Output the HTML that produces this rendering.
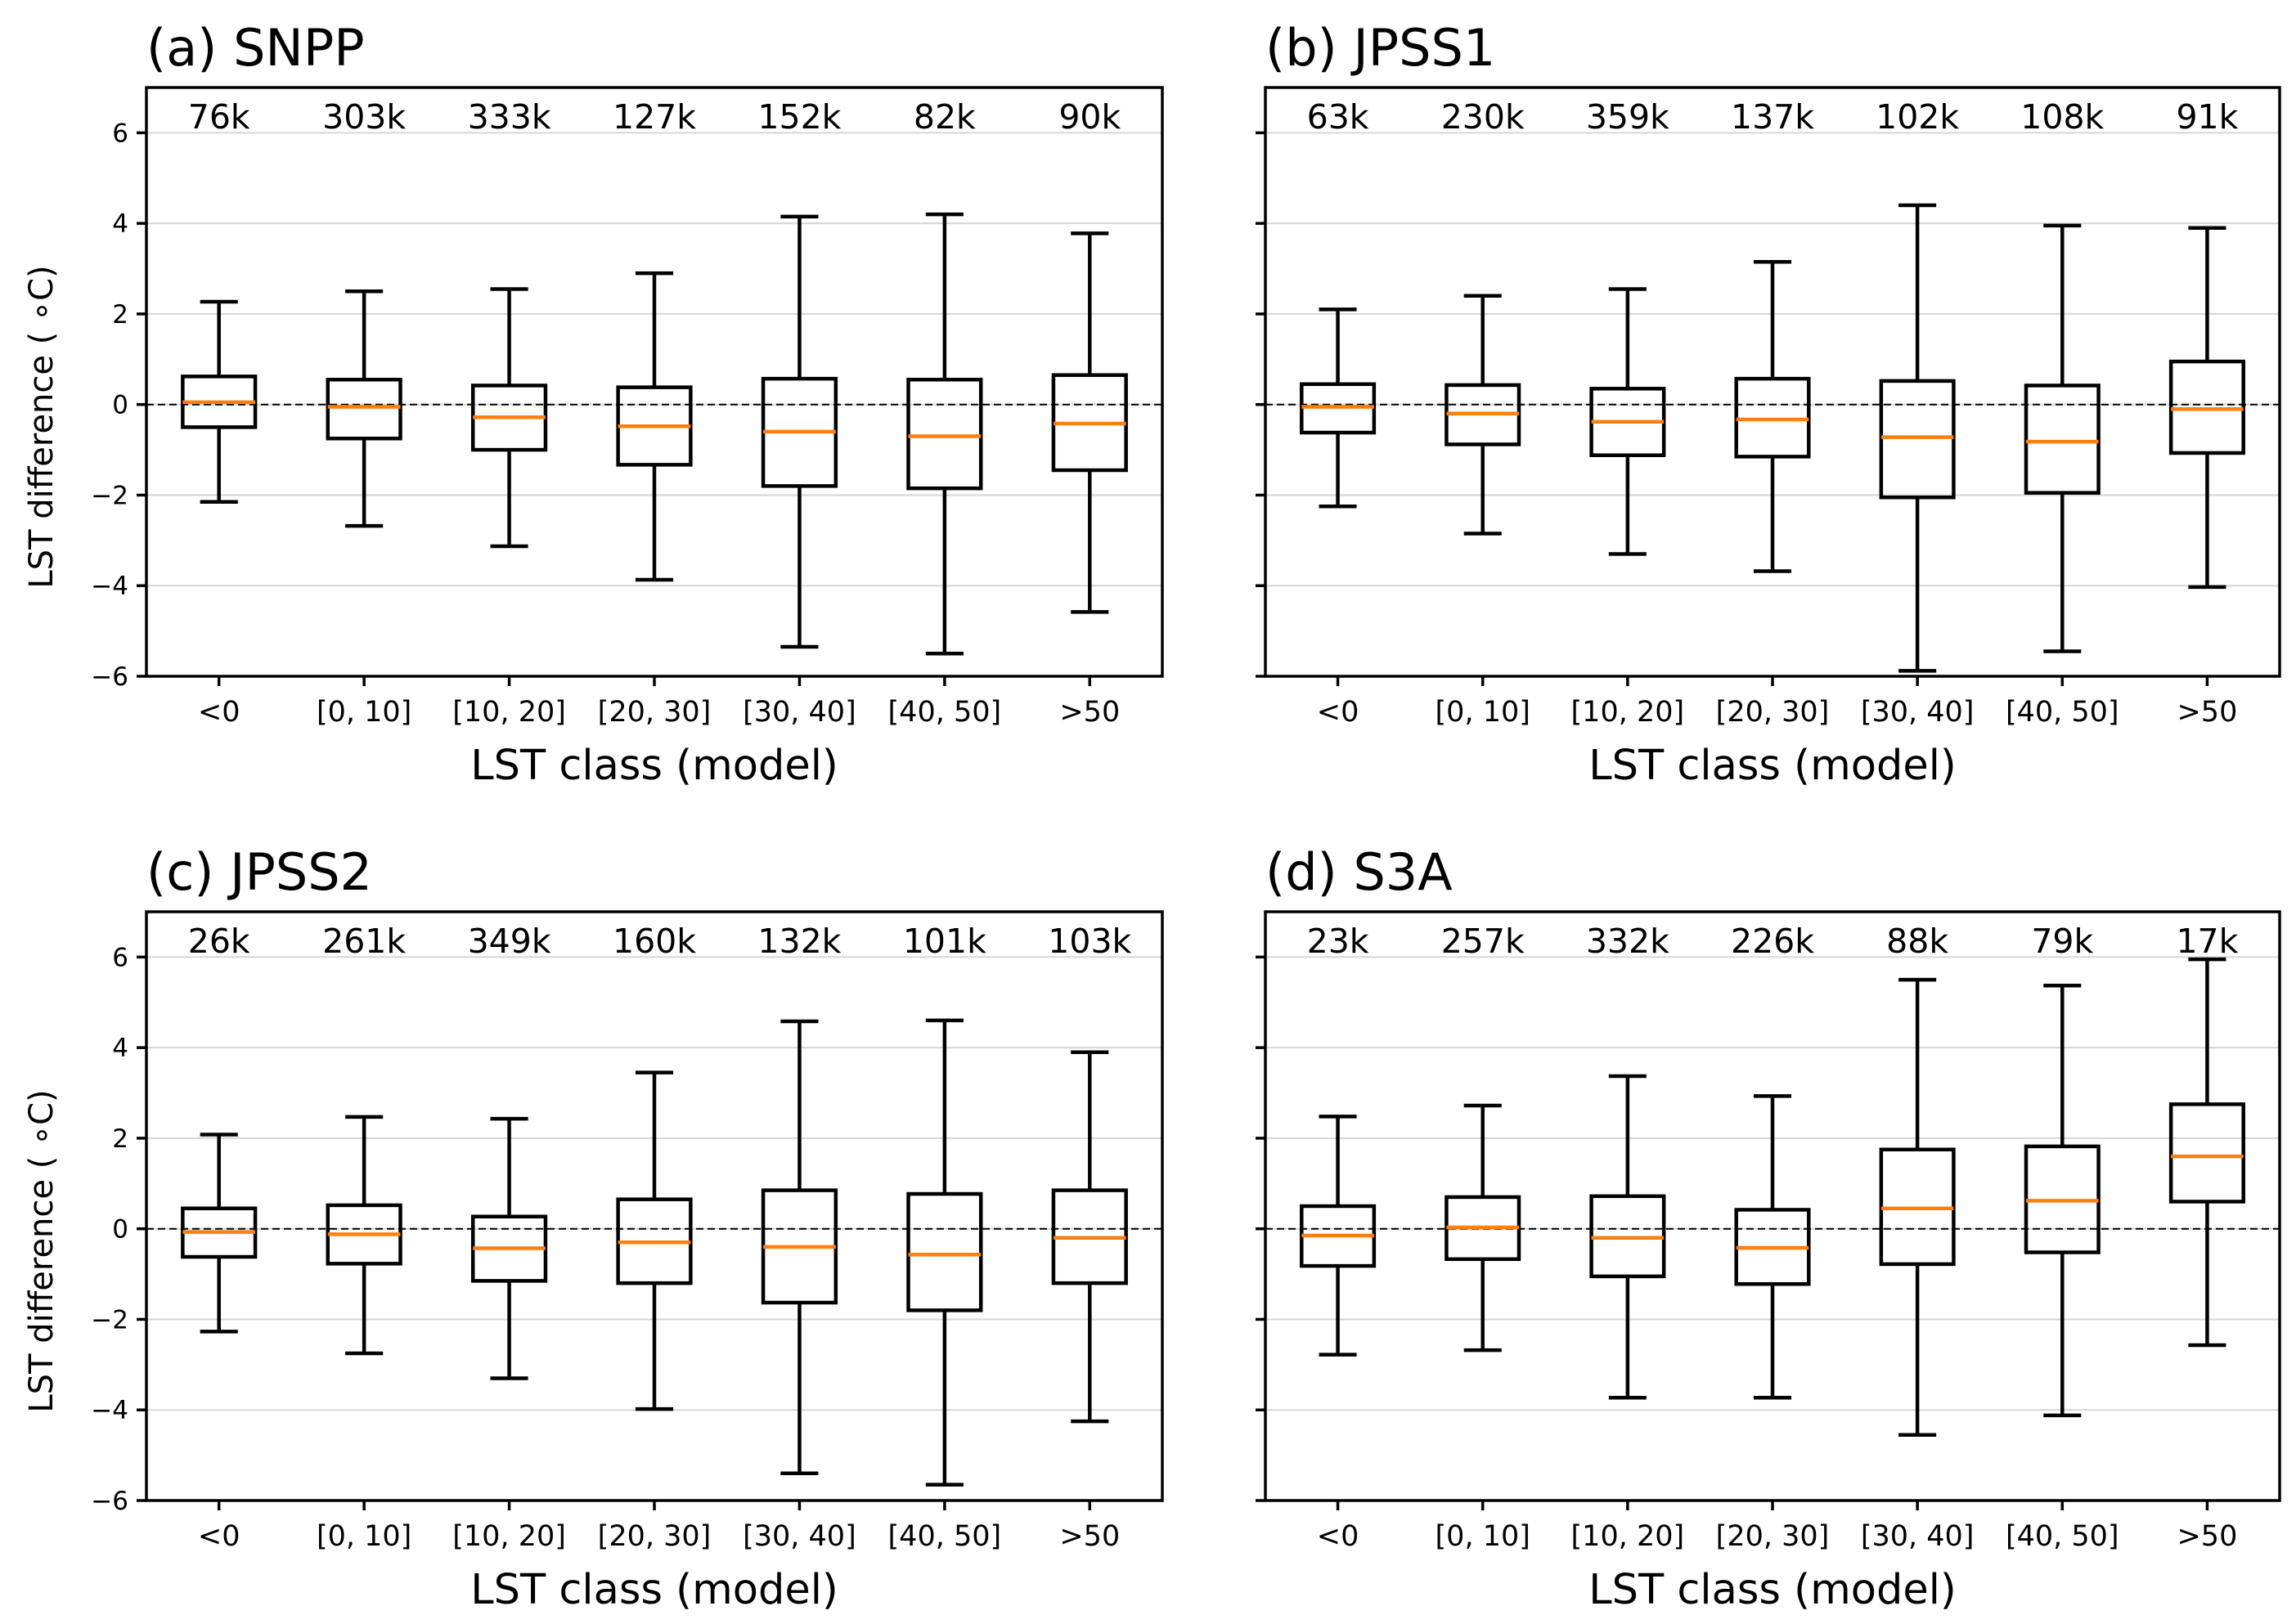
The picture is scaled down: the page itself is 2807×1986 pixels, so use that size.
<!DOCTYPE html>
<html><head><meta charset="utf-8"><style>
html,body{margin:0;padding:0;background:#fff;}
svg{display:block;font-family:"DejaVu Sans","Liberation Sans",sans-serif;}
</style></head><body>
<svg id="fig" width="2807" height="1986" viewBox="0 0 2807 1986" xmlns="http://www.w3.org/2000/svg"></svg>
<script>
const categories = ["<0","[0, 10]","[10, 20]","[20, 30]","[30, 40]","[40, 50]",">50"];
const yTicks = [-6,-4,-2,0,2,4,6];
const titles = ["(a) SNPP","(b) JPSS1","(c) JPSS2","(d) S3A"];
const countsA = ["76k","303k","333k","127k","152k","82k","90k"];
const countsB = ["63k","230k","359k","137k","102k","108k","91k"];
const countsC = ["26k","261k","349k","160k","132k","101k","103k"];
const countsD = ["23k","257k","332k","226k","88k","79k","17k"];
// [whisker high, q3, median, q1, whisker low]
const statsA = [[2.27,0.62,0.05,-0.5,-2.15],[2.5,0.55,-0.05,-0.75,-2.68],[2.55,0.42,-0.28,-1.0,-3.13],[2.9,0.38,-0.48,-1.33,-3.87],[4.15,0.57,-0.6,-1.8,-5.35],[4.2,0.55,-0.7,-1.85,-5.5],[3.78,0.65,-0.42,-1.45,-4.58]];
const statsB = [[2.1,0.45,-0.05,-0.62,-2.25],[2.4,0.43,-0.2,-0.88,-2.85],[2.55,0.35,-0.38,-1.12,-3.3],[3.15,0.57,-0.33,-1.15,-3.68],[4.4,0.52,-0.72,-2.05,-5.88],[3.95,0.42,-0.82,-1.95,-5.45],[3.9,0.95,-0.1,-1.07,-4.03]];
const statsC = [[2.08,0.45,-0.07,-0.62,-2.27],[2.47,0.52,-0.12,-0.77,-2.75],[2.43,0.27,-0.43,-1.15,-3.3],[3.45,0.65,-0.3,-1.2,-3.98],[4.58,0.85,-0.4,-1.63,-5.4],[4.6,0.77,-0.57,-1.8,-5.65],[3.9,0.85,-0.2,-1.2,-4.25]];
const statsD = [[2.48,0.5,-0.15,-0.82,-2.78],[2.72,0.7,0.03,-0.67,-2.68],[3.37,0.72,-0.2,-1.05,-3.73],[2.93,0.42,-0.42,-1.22,-3.73],[5.5,1.75,0.45,-0.78,-4.55],[5.37,1.82,0.62,-0.52,-4.12],[5.95,2.75,1.6,0.6,-2.57]];

const NS="http://www.w3.org/2000/svg";
const svg=document.getElementById('fig');
function mk(tag,attrs,parent,text){const e=document.createElementNS(NS,tag);for(const k in attrs)e.setAttribute(k,attrs[k]);if(text!==undefined)e.textContent=text;(parent||svg).appendChild(e);return e;}

const panels=[
 {x0:179,x1:1421,y0:107,y1:827,counts:countsA,stats:statsA,ylab:true,name:'panel-a'},
 {x0:1547,x1:2787,y0:107,y1:827,counts:countsB,stats:statsB,ylab:false,name:'panel-b'},
 {x0:179,x1:1421,y0:1115,y1:1835,counts:countsC,stats:statsC,ylab:true,name:'panel-c'},
 {x0:1547,x1:2787,y0:1115,y1:1835,counts:countsD,stats:statsD,ylab:false,name:'panel-d'}];

panels.forEach((p,pi)=>{
  const g=mk('g',{});
  
  
  const X=v=>p.x0+(v-0.5)*(p.x1-p.x0)/7;
  const Y=v=>p.y1-(v+6)*(p.y1-p.y0)/13;
  const unit=(p.x1-p.x0)/7;
  yTicks.forEach(t=>{
    const gl=mk('line',{x1:p.x0,x2:p.x1,y1:Y(t),y2:Y(t),stroke:'#d6d6d6','stroke-width':2},g);
    
    
    const tk=mk('line',{x1:p.x0-12,x2:p.x0,y1:Y(t),y2:Y(t),stroke:'#000','stroke-width':3.5},g);
    
    
    if(p.ylab){
      const tl=mk('text',{x:p.x0-22,y:Y(t)+11,'text-anchor':'end','font-size':31},g,(t<0?'\u2212':'')+Math.abs(t));
      
      
    }
  });
  const z=mk('line',{x1:p.x0,x2:p.x1,y1:Y(0),y2:Y(0),stroke:'#000','stroke-width':2,'stroke-dasharray':'9,5'},g);
  
  
  p.stats.forEach((s,i)=>{
    const cx=X(i+1), hw=unit*0.25, cw=unit*0.13;
    const bg=mk('g',{stroke:'#000','stroke-width':4.5,fill:'none'},g);
    
    
    mk('line',{x1:cx,x2:cx,y1:Y(s[0]),y2:Y(s[1])},bg);
    mk('line',{x1:cx,x2:cx,y1:Y(s[3]),y2:Y(s[4])},bg);
    mk('line',{x1:cx-cw,x2:cx+cw,y1:Y(s[0]),y2:Y(s[0])},bg);
    mk('line',{x1:cx-cw,x2:cx+cw,y1:Y(s[4]),y2:Y(s[4])},bg);
    mk('rect',{x:cx-hw,y:Y(s[1]),width:2*hw,height:Y(s[3])-Y(s[1])},bg);
    const md=mk('line',{x1:cx-hw,x2:cx+hw,y1:Y(s[2]),y2:Y(s[2]),stroke:'#ff7f0e','stroke-width':4.5},g);
    
    
    const xt=mk('line',{x1:cx,x2:cx,y1:p.y1,y2:p.y1+12,stroke:'#000','stroke-width':3.5},g);
    
    
    const xl=mk('text',{x:cx,y:p.y1+55,'text-anchor':'middle','font-size':35},g,categories[i]);
    
    
    const ct=mk('text',{x:cx,y:p.y0+50,'text-anchor':'middle','font-size':41},g,p.counts[i]);
    
    
  });
  const fr=mk('rect',{x:p.x0,y:p.y0,width:p.x1-p.x0,height:p.y1-p.y0,fill:'none',stroke:'#000','stroke-width':3.5},g);
  
  
  const ti=mk('text',{x:p.x0,y:p.y0-27,'font-size':62},g,titles[pi]);
  
  
  const xa=mk('text',{x:(p.x0+p.x1)/2,y:p.y1+126,'text-anchor':'middle','font-size':51},g,'LST class (model)');
  
  
  if(p.ylab){
    const cy=(p.y0+p.y1)/2+55;
    const ya=mk('text',{x:64,y:cy,'text-anchor':'middle','font-size':40,transform:'rotate(-90 64 '+cy+')'},g,'LST difference ( \u2218C)');
    
    
  }
});
</script>
</body></html>
